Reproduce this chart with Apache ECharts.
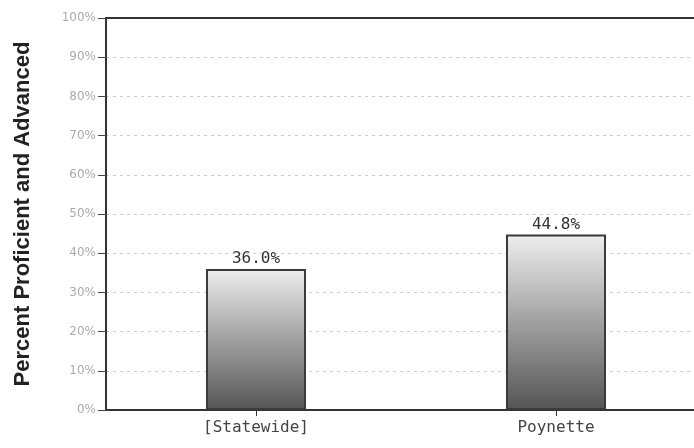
<!DOCTYPE html>
<html><head><meta charset="utf-8">
<script src="https://cdn.jsdelivr.net/npm/echarts@6/dist/echarts.min.js"></script>
<style>html,body{margin:0;padding:0;background:#fff;overflow:hidden}#c{width:706px;height:448px}</style>
</head><body><div id="c"></div>
<script>
const categories = ['[Statewide]', 'Poynette'];
const values = [36.0, 44.8];
const yTicks = [0, 10, 20, 30, 40, 50, 60, 70, 80, 90, 100];

const chart = echarts.init(document.getElementById('c'), null, {renderer: 'canvas'});
chart.setOption({
  animation: false,
  grid: {left: 106, right: 0, top: 18, bottom: 38, show: false},
  xAxis: [{
    type: 'category', data: categories,
    axisLine: {lineStyle: {color: '#333', width: 2}},
    axisTick: {show: true, alignWithLabel: true, length: 6, lineStyle: {color: '#333'}},
    axisLabel: {color: '#444', fontSize: 16, fontFamily: 'DejaVu Sans Mono', margin: 10}
  }, {
    type: 'category', data: categories, position: 'top',
    axisLine: {lineStyle: {color: '#333', width: 2}},
    axisTick: {show: false}, axisLabel: {show: false}
  }],
  yAxis: {
    type: 'value', min: yTicks[0], max: yTicks[yTicks.length - 1], interval: 10,
    name: 'Percent Proficient and Advanced', nameLocation: 'middle', nameGap: 72,
    nameTextStyle: {fontSize: 22, fontWeight: 'bold', color: '#222', fontFamily: 'Liberation Sans', padding: [0, 0, 0, 0]},
    axisLine: {show: true, lineStyle: {color: '#333', width: 2}},
    axisTick: {show: true, length: 8, lineStyle: {color: '#444'}},
    axisLabel: {color: '#aaa', fontSize: 12, fontFamily: 'DejaVu Sans', margin: 10, formatter: '{value}%'},
    splitLine: {show: true, lineStyle: {color: '#ccc', type: [3, 4], width: 1}}
  },
  series: [{
    type: 'bar', data: values, barWidth: 100,
    itemStyle: {
      borderColor: '#3a3a3a', borderWidth: 2,
      color: new echarts.graphic.LinearGradient(0, 0, 0, 1, [
        {offset: 0, color: '#eeeeee'},
        {offset: 0.45, color: '#a8a8a8'},
        {offset: 1, color: '#555555'}
      ])
    },
    label: {show: true, position: 'top', distance: 2, color: '#333', fontSize: 16, fontFamily: 'DejaVu Sans Mono', formatter: p => p.value.toFixed(1) + '%'}
  }]
});
</script></body></html>
